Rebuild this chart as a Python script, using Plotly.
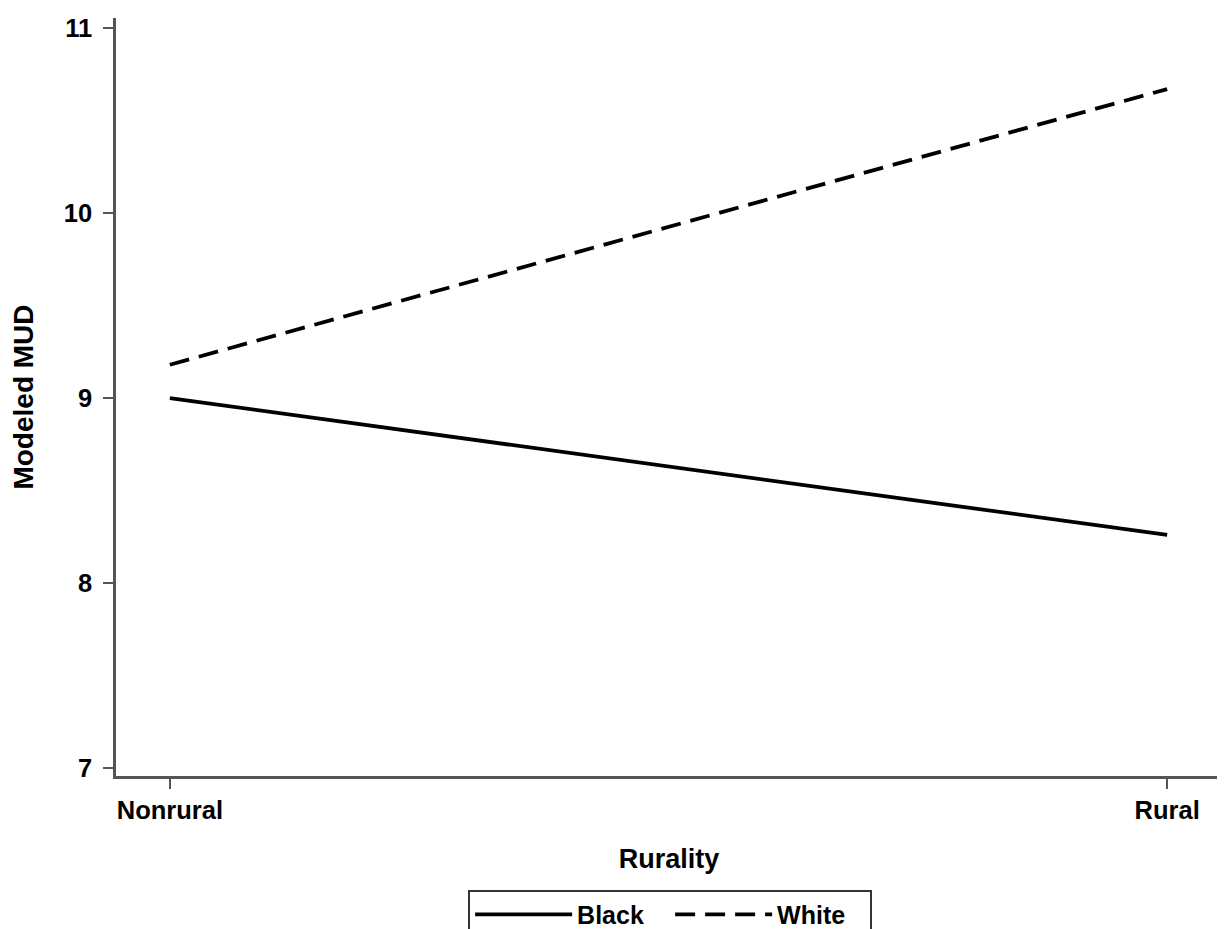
import plotly.graph_objects as go

categories = ["Nonrural", "Rural"]
black_vals = [9.0, 8.26]
white_vals = [9.18, 10.67]
y_ticks = [7, 8, 9, 10, 11]

FONT = "Liberation Sans, Arial, sans-serif"

fig = go.Figure()
fig.add_trace(go.Scatter(
    x=categories, y=black_vals, mode="lines", name="Black",
    line=dict(color="black", width=3.8, dash="solid"),
))
fig.add_trace(go.Scatter(
    x=categories, y=white_vals, mode="lines", name="White",
    line=dict(color="black", width=3.8, dash="20px,10px"),
))

axis_common = dict(
    showline=True, linecolor="#555555", linewidth=2.5,
    ticks="outside", tickcolor="#555555", tickwidth=2, ticklen=10,
    showgrid=False, zeroline=False,
    tickfont=dict(family=FONT, size=25.5, color="black", weight="bold"),
)

fig.update_layout(
    width=1217, height=921,
    paper_bgcolor="white", plot_bgcolor="white",
    margin=dict(l=108, r=3, t=10, b=153, autoexpand=False),
    xaxis=dict(
        type="category", range=[-0.054, 1.055],
        title=dict(text="Rurality", standoff=26,
                   font=dict(family=FONT, size=27, color="black", weight="bold")),
        **axis_common,
    ),
    yaxis=dict(
        range=[6.957, 11.054], tickvals=y_ticks,
        title=dict(text="Modeled MUD", standoff=27,
                   font=dict(family=FONT, size=28, color="black", weight="bold")),
        ticklabelstandoff=6,
        **axis_common,
    ),
    showlegend=True,
    legend=dict(
        orientation="h", x=0.501, xanchor="center", y=-0.150, yanchor="top",
        bordercolor="#333333", borderwidth=2, bgcolor="white",
        font=dict(family=FONT, size=25, color="black", weight="bold"),
        itemwidth=97, entrywidth=88,
    ),
)

fig.write_html("out.html")
